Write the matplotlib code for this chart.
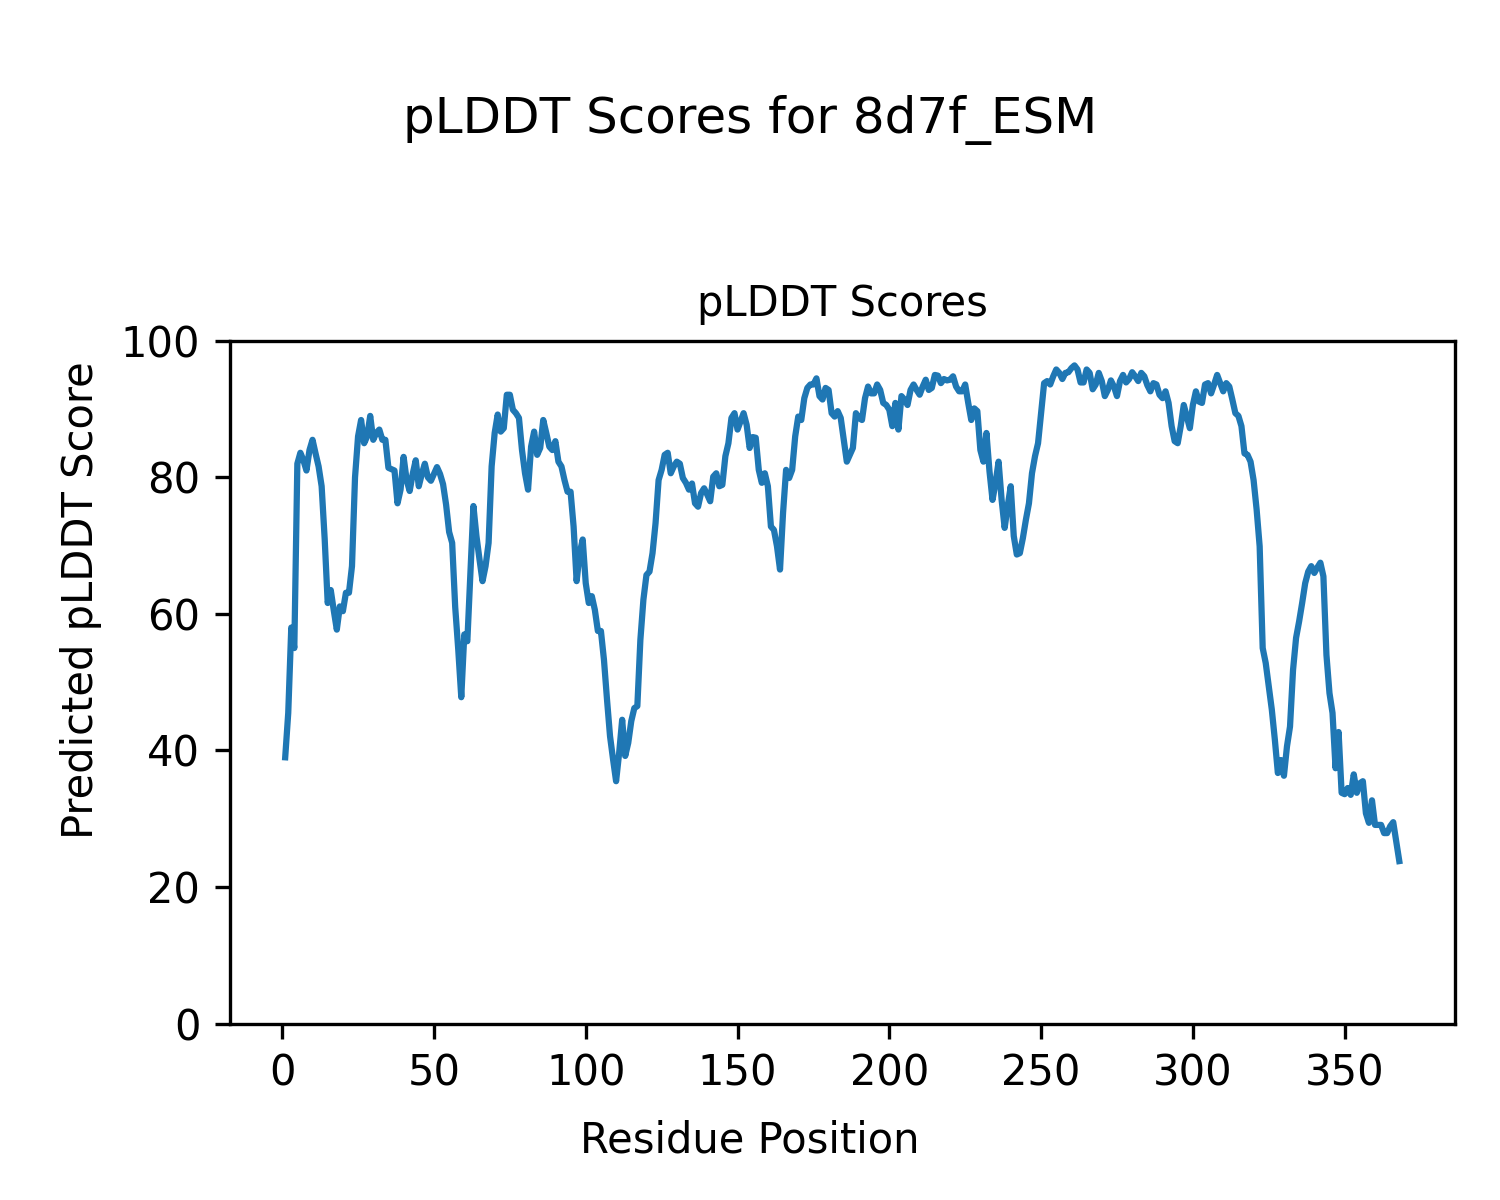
import matplotlib
matplotlib.use("Agg")
import matplotlib.pyplot as plt
import numpy as np

plddt = [
    39, 45.5, 58, 55, 82, 83.6, 82.5, 81, 84, 85.5,
    83.5, 81.6, 78.7, 71, 61.6, 63.5, 60.5, 57.7, 61.1, 60.4,
    63.1, 63.1, 67, 80, 86, 88.4, 85, 86, 89, 85.5,
    86.5, 87, 85.5, 85.5, 81.4, 81.2, 81, 76.2, 78.2, 83,
    79.6, 78, 80.5, 82.5, 78.7, 80.5, 82, 80, 79.5, 80.5,
    81.5, 80.5, 79, 76, 72, 70.4, 61, 54.8, 47.8, 57,
    56, 66, 75.8, 71.4, 68, 64.8, 67, 70.4, 81.6, 86.5,
    89.2, 86.7, 87.2, 92.1, 92.1, 89.9, 89.4, 88.7, 84, 80.6,
    78.2, 84.5, 86.7, 83.3, 84.3, 88.4, 86.5, 84.5, 84, 85.3,
    82.3, 81.6, 79.6, 77.9, 77.9, 72.8, 64.8, 68.9, 70.9, 64.5,
    61.6, 62.6, 60.6, 57.5, 57.5, 53.3, 47.5, 42.1, 38.7, 35.5,
    39.6, 44.5, 39.2, 41.1, 44.3, 46.2, 46.5, 56.2, 62.1, 65.7,
    66.2, 68.9, 73.3, 79.6, 81.1, 83.3, 83.6, 80.6, 81.6, 82.3,
    82, 79.9, 79.2, 78.2, 79.1, 76.2, 75.7, 77.7, 78.4, 77.5,
    76.5, 80.1, 80.6, 78.7, 78.9, 83.1, 85, 88.7, 89.4, 87,
    88.2, 89.4, 87.7, 84.3, 85.9, 85.8, 81.1, 79.2, 80.6, 78.7,
    72.8, 72.3, 69.9, 66.5, 74.8, 81.1, 79.9, 81.1, 86, 88.9,
    88.4, 91.6, 93.1, 93.6, 93.6, 94.5, 91.9, 91.4, 93.1, 92.8,
    89.4, 88.9, 89.7, 88.7, 85.5, 82.3, 83.3, 84.3, 89.4, 88.7,
    88.4, 91.6, 93.3, 92.3, 92.3, 93.6, 92.8, 90.9, 90.6, 89.9,
    87.5, 90.9, 87, 91.9, 91.4, 90.6, 92.8, 93.6, 92.8, 92.1,
    93.3, 94.3, 92.8, 93.1, 95, 94.9, 93.8, 94.4, 94.2, 94.3,
    94.8, 93.3, 92.6, 92.6, 93.6, 90.9, 88.4, 90.1, 89.7, 84,
    82.3, 86.5, 80.9, 76.7, 79.2, 82.3, 76.7, 72.6, 75.8, 78.7,
    71.4, 68.7, 68.9, 71.1, 73.8, 76.2, 80.6, 83.1, 85, 89.4,
    93.8, 94.1, 93.6, 94.8, 95.8, 95.3, 94.4, 95.3, 95.4, 96,
    96.4, 95.8, 93.9, 93.9, 95.8, 95.3, 92.9, 93.6, 95.3, 94.1,
    91.9, 92.8, 94.2, 93.3, 91.9, 94.1, 95, 93.9, 94.4, 95.4,
    94.8, 94.1, 95.3, 94.8, 93.5, 92.6, 93.8, 93.6, 92.1, 91.6,
    92.6, 90.9, 87.5, 85.3, 85, 87.5, 90.6, 88.9, 87.2, 90.6,
    92.6, 91.1, 90.9, 93.6, 93.8, 92.3, 93.6, 95, 93.8, 92.6,
    93.8, 93.3, 91.4, 89.4, 89, 87.5, 83.5, 83.3, 82.3, 79.6,
    75.3, 69.9, 55, 52.8, 49.4, 46, 41.6, 36.7, 38.6, 36.3,
    40.6, 43.5, 51.8, 56.5, 58.9, 61.6, 64.5, 66.2, 67, 66,
    66.8, 67.5, 65.5, 54, 48.4, 45.5, 37.4, 42.7, 33.8, 33.6,
    34.5, 33.5, 36.5, 33.8, 35.2, 35.5, 30.8, 29.4, 32.7, 29.1,
    29.1, 29.1, 27.9, 27.9, 28.9, 29.5, 26.7, 23.8,
]
residues = np.arange(1, len(plddt) + 1)

fig = plt.figure(figsize=(5, 4), dpi=300)
ax = fig.add_axes([0.153, 0.147, 0.817, 0.569])
ax.plot(residues, plddt, color="#1f77b4", linewidth=1.5)
ax.set_ylim(0, 100)
ax.set_title("pLDDT Scores", fontsize=10)
fig.text(0.5, 0.0397, "Residue Position", fontsize=10, ha="center", va="baseline")
fig.text(0.054, 0.5, "Predicted pLDDT Score", fontsize=10, rotation=90,
         ha="center", va="center")
fig.suptitle("pLDDT Scores for 8d7f_ESM", fontsize=12, y=0.921)
fig.savefig("out.png", dpi=300)
